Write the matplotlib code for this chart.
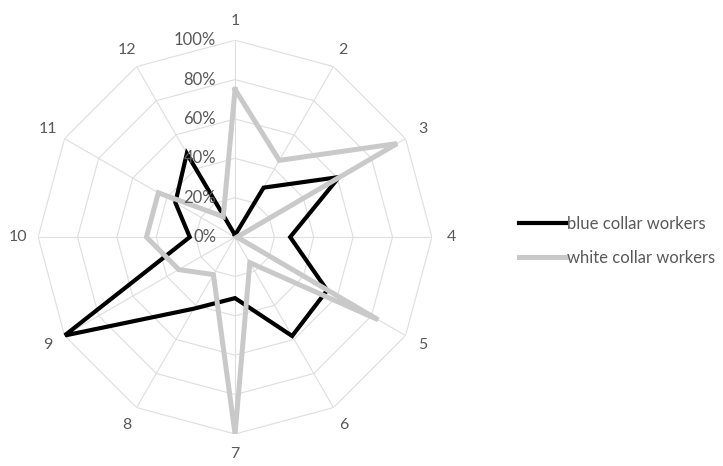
import numpy as np
import matplotlib
matplotlib.use("Agg")
import matplotlib.pyplot as plt
from matplotlib.lines import Line2D

plt.rcParams["font.family"] = ["Lato", "DejaVu Sans"]

categories = ["1", "2", "3", "4", "5", "6", "7", "8", "9", "10", "11", "12"]
blue_collar = [1, 29, 61, 28, 54, 58, 31, 42, 100, 23, 35, 49]
white_collar = [75, 45, 95, 1, 84, 15, 100, 22, 33, 45, 45, 12]
ring_levels = [20, 40, 60, 80, 100]
tick_labels = ["0%", "20%", "40%", "60%", "80%", "100%"]

TEXT = "#595959"
GRID = "#dedede"
WHITE_C = "#c9c9c9"

n = len(categories)
theta = np.arange(n) * 2 * np.pi / n
theta_closed = np.append(theta, theta[0])

fig = plt.figure(figsize=(7.23, 4.66), dpi=100)
ax = fig.add_axes([0.0526, 0.0687, 0.545, 0.845], projection="polar")
ax.set_theta_zero_location("N")
ax.set_theta_direction(-1)
ax.set_ylim(0, 100)
ax.grid(False)
ax.spines["polar"].set_visible(False)
ax.set_xticks([])
ax.set_yticks([])
ax.patch.set_alpha(0)

# polygon rings + spokes
for lvl in ring_levels:
    ax.plot(theta_closed, [lvl] * (n + 1), color=GRID, linewidth=0.8, zorder=1)
for th in theta:
    ax.plot([th, th], [0, 100], color=GRID, linewidth=0.8, zorder=1)

# series
ax.plot(theta_closed, blue_collar + blue_collar[:1], color="black",
        linewidth=3.0, solid_joinstyle="miter", zorder=3)
ax.plot(theta_closed, white_collar + white_collar[:1], color=WHITE_C,
        linewidth=3.6, solid_joinstyle="miter", zorder=4)

# radial tick labels, left of the top spoke
for i, lab in enumerate(tick_labels):
    ax.annotate(lab, xy=(0, i * 20), xytext=(-19, 0), textcoords="offset pixels",
                ha="right", va="center", fontsize=12, color=TEXT, zorder=5)

# category labels
for th, lab in zip(theta, categories):
    ax.text(th, 110, lab, ha="center", va="center", fontsize=11.5, color=TEXT)

handles = [Line2D([], [], color="black", linewidth=3.0),
           Line2D([], [], color=WHITE_C, linewidth=3.6)]
fig.legend(handles, ["blue collar workers", "white collar workers"],
           loc="center left", bbox_to_anchor=(0.697, 0.483), frameon=False,
           fontsize=12, labelcolor=TEXT, handlelength=2.8, handletextpad=0.1,
           labelspacing=1.1)

fig.savefig("out.png", dpi=100, facecolor="white")
